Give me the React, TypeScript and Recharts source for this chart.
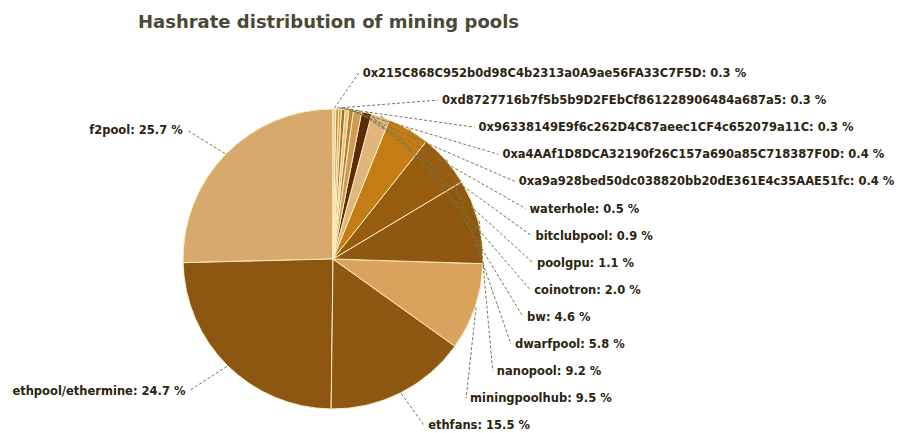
import { PieChart, Pie, Cell } from "recharts";

const POOLS = [
  "f2pool",
  "ethpool/ethermine",
  "ethfans",
  "miningpoolhub",
  "nanopool",
  "dwarfpool",
  "bw",
  "coinotron",
  "poolgpu",
  "bitclubpool",
  "waterhole",
  "0xa9a928bed50dc038820bb20dE361E4c35AAE51fc",
  "0xa4AAf1D8DCA32190f26C157a690a85C718387F0D",
  "0x96338149E9f6c262D4C87aeec1CF4c652079a11C",
  "0xd8727716b7f5b5b9D2FEbCf861228906484a687a5",
  "0x215C868C952b0d98C4b2313a0A9ae56FA33C7F5D",
];

const SHARES = [25.7, 24.7, 15.5, 9.5, 9.2, 5.8, 4.6, 2.0, 1.1, 0.9, 0.5, 0.4, 0.4, 0.3, 0.3, 0.3];

const COLORS = [
  "#d8a96c", "#8c5610", "#8e5812", "#d9a35e", "#8f5810", "#975c0e",
  "#c47c14", "#e0b67c", "#5c2a06", "#cf9a52", "#b9822f", "#e6c08a",
  "#a8701e", "#d7a45e", "#c48a3a", "#e8c796",
];

const data = POOLS.map((name, i) => ({ name, value: SHARES[i] }));

const FONT = "'DejaVu Sans', Verdana, sans-serif";
const RAD = Math.PI / 180;

function renderLabel(props: any) {
  const { cx, cy, midAngle, outerRadius, index, name, value } = props;
  const cos = Math.cos(-midAngle * RAD);
  const sin = Math.sin(-midAngle * RAD);
  const sx = cx + (outerRadius + 1) * cos;
  const sy = cy + (outerRadius + 1) * sin;
  let tx: number, ty: number, lx: number;
  let anchor: "start" | "end";
  if (index < 2) {
    // the two big slices on the left
    tx = cx + (outerRadius + 60) * cos;
    ty = cy + (outerRadius + 35) * sin;
    lx = tx + 4;
    anchor = "end";
  } else {
    // the rest are stacked in a column on the right
    const k = POOLS.length - 1 - index;
    ty = 73 + k * 27.1;
    const dy = ty - cy;
    const b = outerRadius + 38;
    tx = cx + (outerRadius + 54) * Math.sqrt(Math.max(0, 1 - (dy / b) ** 2));
    lx = tx - 4;
    anchor = "start";
  }
  return (
    <g key={`lbl-${index}`}>
      <polyline
        points={`${sx},${sy} ${lx},${ty}`}
        fill="none"
        stroke="#77774e"
        strokeWidth={1}
        strokeDasharray="3 2"
      />
      <text
        x={tx}
        y={ty}
        textAnchor={anchor}
        dominantBaseline="central"
        fontFamily={FONT}
        fontWeight="bold"
        fontSize={11.5}
        fill="#2b2410"
      >
        {`${name}: ${value.toFixed(1)} %`}
      </text>
    </g>
  );
}

export default function App() {
  return (
    <div style={{ position: "absolute", left: 0, top: 0, width: 917, height: 433, background: "#fff" }}>
      <div
        style={{
          position: "absolute",
          left: 138,
          top: 12,
          fontFamily: FONT,
          fontWeight: "bold",
          fontSize: 18,
          lineHeight: "20px",
          color: "#4a4836",
          whiteSpace: "nowrap",
        }}
      >
        Hashrate distribution of mining pools
      </div>
      <PieChart width={917} height={433} margin={{ top: 0, right: 0, bottom: 0, left: 0 }}>
        <Pie
          data={data}
          dataKey="value"
          nameKey="name"
          cx={333}
          cy={259}
          outerRadius={150}
          startAngle={90}
          endAngle={450}
          stroke="#fbeec0"
          strokeWidth={1}
          label={renderLabel}
          labelLine={false}
          isAnimationActive={false}
        >
          {data.map((_, i) => (
            <Cell key={`cell-${i}`} fill={COLORS[i % COLORS.length]} />
          ))}
        </Pie>
      </PieChart>
    </div>
  );
}
